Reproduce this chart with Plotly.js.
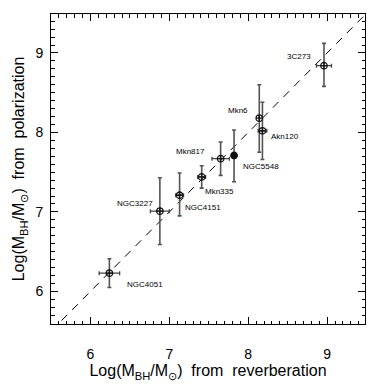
<!DOCTYPE html>
<html>
<head>
<meta charset="utf-8">
<script src="https://cdn.plot.ly/plotly-3.0.1.min.js"></script>
<style>html,body{margin:0;padding:0;background:#fff;}#chart{width:377px;height:385px;}</style>
</head>
<body>
<div id="chart"></div>
<script>
// Data
const names = ["3C273", "Mkn6", "Akn120", "NGC5548", "Mkn817", "Mkn335", "NGC4151", "NGC3227", "NGC4051"];
const logReverb = [8.96, 8.14, 8.18, 7.82, 7.65, 7.41, 7.13, 6.88, 6.24];
const reverbErr = [0.095, 0, 0.055, 0, 0.11, 0.05, 0.05, 0.12, 0.13];
const logPolar = [8.84, 8.18, 8.02, 7.71, 7.67, 7.44, 7.21, 7.01, 6.23];
const polarErrPlus = [0.28, 0.42, 0.36, 0.32, 0.21, 0.14, 0.28, 0.42, 0.18];
const polarErrMinus = [0.26, 0.43, 0.36, 0.33, 0.21, 0.14, 0.26, 0.42, 0.18];
const filled = [false, false, false, true, false, false, false, false, false];
const oneToOne = [5.5, 9.5];
const xTicks = [6, 7, 8, 9];
const yTicks = [6, 7, 8, 9];

// label placement (pixel offsets from the point)
const labelAnchor = ["right", "right", "left", "left", "right", "left", "left", "right", "left"];
const labelDx = [-11, -9, 7, 7, -14, 1, 3, -5, 16];
const labelDy = [9, 8, -6, -11, 7, -15, -12, 8, -11];

const traces = [
  {
    x: oneToOne, y: oneToOne, mode: "lines", type: "scatter",
    line: {color: "#000", width: 1, dash: "8px,7px"}, hoverinfo: "skip", showlegend: false
  },
  {
    x: logReverb, y: logPolar, mode: "markers", type: "scatter", showlegend: false,
    marker: {
      symbol: filled.map(f => f ? "circle" : "circle-cross-open"),
      size: 6.5, color: "#111", line: {color: "#111", width: 1.3}
    },
    error_x: {type: "data", array: reverbErr, symmetric: true, color: "#444", thickness: 1.3, width: 2},
    error_y: {type: "data", array: polarErrPlus, arrayminus: polarErrMinus, symmetric: false, color: "#555", thickness: 1.6, width: 2}
  }
];

const annotations = names.map((n, i) => ({
  x: logReverb[i], y: logPolar[i], xref: "x", yref: "y", text: n, showarrow: false,
  xanchor: labelAnchor[i], yanchor: "middle", xshift: labelDx[i], yshift: labelDy[i],
  font: {family: "Liberation Sans, Arial, sans-serif", size: 8, color: "#000"}
}));

const axisFont = {family: "Liberation Sans, Arial, sans-serif", size: 14, color: "#000"};
const layout = {
  width: 377, height: 385,
  margin: {l: 51, r: 12, t: 14, b: 61},
  paper_bgcolor: "#fff", plot_bgcolor: "#fff",
  showlegend: false,
  xaxis: {
    range: [5.5, 9.48], tickvals: xTicks, ticks: "inside", ticklen: 7, tickwidth: 1, tickcolor: "#000",
    minor: {dtick: 0.1, ticks: "inside", ticklen: 3.5, tickcolor: "#000", tickwidth: 1, showgrid: false},
    showline: true, linecolor: "#000", linewidth: 1, mirror: "allticks", showgrid: false, zeroline: false,
    tickfont: axisFont, ticklabelstandoff: 17,
    title: {text: "Log(M<sub>BH</sub>/M<sub>⊙</sub>)  from  reverberation", font: {family: "Liberation Sans, Arial, sans-serif", size: 16, color: "#000"}, standoff: 4}
  },
  yaxis: {
    range: [5.59, 9.49], tickvals: yTicks, ticks: "inside", ticklen: 7, tickwidth: 1, tickcolor: "#000",
    minor: {dtick: 0.1, ticks: "inside", ticklen: 3.5, tickcolor: "#000", tickwidth: 1, showgrid: false},
    showline: true, linecolor: "#000", linewidth: 1, mirror: "allticks", showgrid: false, zeroline: false,
    tickfont: axisFont, ticklabelstandoff: 4,
    title: {text: "Log(M<sub>BH</sub>/M<sub>⊙</sub>)  from  polarization", font: {family: "Liberation Sans, Arial, sans-serif", size: 16, color: "#000"}, standoff: 6}
  },
  annotations: annotations
};

Plotly.newPlot("chart", traces, layout, {staticPlot: true, displayModeBar: false});
</script>
</body>
</html>
